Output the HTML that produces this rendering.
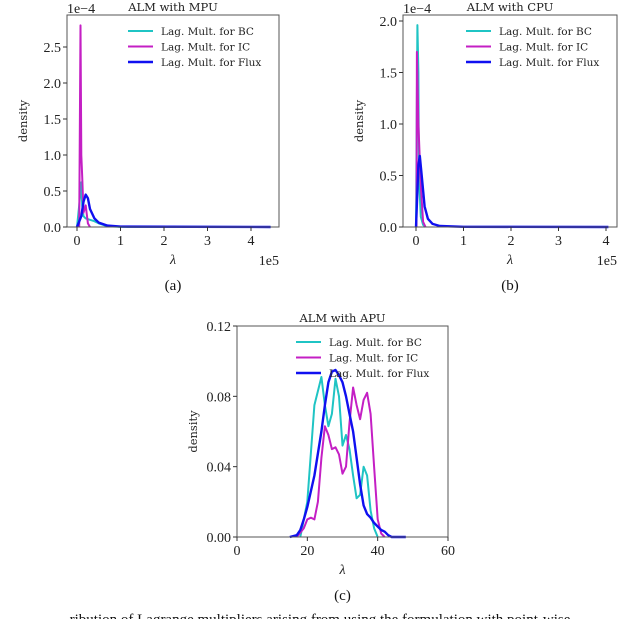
<!DOCTYPE html>
<html><head><meta charset="utf-8"><style>
body{margin:0;background:#fff;width:640px;height:619px;overflow:hidden}
svg{display:block}
.tk{font-family:"Liberation Serif",serif;font-size:14px;fill:#222}
.lg{font-family:"DejaVu Serif",serif;font-size:10.5px;fill:#222}
.tt{font-family:"DejaVu Serif",serif;font-size:11.5px;fill:#222}
.cap{font-family:"Liberation Serif",serif;font-size:15px;fill:#111}
</style></head><body>
<svg id="c" width="640" height="619" xmlns="http://www.w3.org/2000/svg"></svg>
<script>
// Panel (a) MPU data: x in 1e5, density in 1e-4
const aBCx=[0,0.05,0.1,0.12,0.15,0.2,0.3,0.4,0.5,0.7,1.0,4.45];
const aBCy=[0,0.3,0.62,0.3,0.15,0.12,0.1,0.08,0.05,0.01,0.002,0];
const aICx=[0.05,0.08,0.1,0.12,0.15,0.2,0.25,0.3];
const aICy=[0,2.8,1.0,0.7,0.2,0.3,0.05,0];
const aFXx=[0,0.1,0.15,0.2,0.25,0.3,0.4,0.5,0.7,1.0,4.45];
const aFXy=[0,0.15,0.35,0.45,0.4,0.25,0.12,0.06,0.02,0.005,0];
// Panel (b) CPU data
const bBCx=[0,0.03,0.05,0.06,0.1,0.15,0.2];
const bBCy=[0,1.96,1.5,0.5,0.1,0.02,0];
const bICx=[0.01,0.02,0.05,0.1,0.15,0.2];
const bICy=[0,1.7,1.0,0.4,0.05,0];
const bFXx=[0,0.05,0.08,0.12,0.18,0.25,0.35,0.5,1.0,4.05];
const bFXy=[0,0.6,0.69,0.5,0.2,0.08,0.03,0.01,0.002,0];
// Panel (c) APU data
const cBCx=[18,20,22,23,24,25,26,27,28,29,30,31,32,33,34,35,36,37,38,39,40];
const cBCy=[0,0.02,0.075,0.083,0.091,0.075,0.063,0.07,0.09,0.08,0.052,0.058,0.05,0.035,0.022,0.024,0.04,0.035,0.015,0.005,0];
const cICx=[17,19,20,21,22,23,24,25,26,27,28,29,30,31,32,33,34,35,36,37,38,39,40,41,42];
const cICy=[0,0.005,0.01,0.011,0.01,0.02,0.045,0.063,0.058,0.05,0.051,0.047,0.036,0.04,0.065,0.085,0.075,0.067,0.078,0.082,0.07,0.04,0.01,0.002,0];
const cFXx=[15,17,18,19,20,22,24,25,26,27,28,29,30,31,32,33,34,35,36,37,38,39,40,41,42,43,44,48];
const cFXy=[0,0.001,0.004,0.01,0.017,0.035,0.06,0.075,0.088,0.094,0.095,0.092,0.088,0.08,0.07,0.06,0.045,0.03,0.018,0.013,0.011,0.008,0.006,0.004,0.003,0.001,0,0];
const aXt=[0,1,2,3,4], aYt=[0,0.5,1.0,1.5,2.0,2.5];
const bXt=[0,1,2,3,4], bYt=[0,0.5,1.0,1.5,2.0];
const cXt=[0,20,40,60], cYt=[0,0.04,0.08,0.12];

const svg=document.getElementById('c');
const NS='http://www.w3.org/2000/svg';
function mk(t,a,p){const e=document.createElementNS(NS,t);for(const k in a)e.setAttribute(k,a[k]);(p||svg).appendChild(e);return e;}
function txt(s,x,y,cls,anchor,p){const e=mk('text',{x:x,y:y,class:cls,'text-anchor':anchor||'start'},p);e.textContent=s;return e;}

function panel(cfg){
  const g=mk('g',{});
  
  
  const X=v=>cfg.x0+(v-cfg.xmin)*cfg.xs, Y=v=>cfg.y0-v*cfg.ys;
  const series=[[cfg.bc,'#17becf'.replace('#17becf','#1fc4c4'),'bc',2],[cfg.ic,'#c41fc4','ic',2],[cfg.fx,'#1010f0','flux',2.4]];
  series.forEach(s=>{
    const pts=s[0][0].map((v,i)=>X(v).toFixed(1)+','+Y(s[0][1][i]).toFixed(1)).join(' ');
    const l=mk('polyline',{points:pts,fill:'none',stroke:s[1],'stroke-width':s[3],'stroke-linejoin':'round'},g);
    
    
  });
  const r=mk('rect',{x:cfg.L,y:cfg.T,width:cfg.R-cfg.L,height:cfg.y0-cfg.T,fill:'none',stroke:'#555','stroke-width':1},g);
  
  
  cfg.xt.forEach(v=>{mk('line',{x1:X(v),x2:X(v),y1:cfg.y0,y2:cfg.y0+4,stroke:'#333'},g);
    const t=txt(cfg.xfmt(v),X(v),cfg.y0+18,'tk','middle',g);});
  cfg.yt.forEach(v=>{mk('line',{x1:cfg.L-4,x2:cfg.L,y1:Y(v),y2:Y(v),stroke:'#333'},g);
    const t=txt(cfg.yfmt(v),cfg.L-6,Y(v)+5,'tk','end',g);});
  const tt=txt(cfg.title,(cfg.L+cfg.R)/2,cfg.T-4,'tt','middle',g);
  const yl=txt('density',0,0,'tt','middle',g);yl.setAttribute('transform','translate('+(cfg.L-40)+','+((cfg.T+cfg.y0)/2)+') rotate(-90)');
  
  const xl=txt('λ',(cfg.L+cfg.R)/2,cfg.y0+37,'tk','middle',g);xl.setAttribute('font-style','italic');
  
  if(cfg.exp){const e=txt('1e5',cfg.R,cfg.y0+38,'tk','end',g);
    const f=txt('1e\u22124',cfg.L,cfg.T-2,'tk','start',g);}
  const cp=txt(cfg.cap,(cfg.L+cfg.R)/2,cfg.y0+63,'cap','middle',g);
  const lg=mk('g',{},g);
  const labs=['Lag. Mult. for BC','Lag. Mult. for IC','Lag. Mult. for Flux'];
  series.forEach((s,i)=>{const yy=cfg.lgY+i*15.5;
    mk('line',{x1:cfg.lgX,x2:cfg.lgX+25,y1:yy,y2:yy,stroke:s[1],'stroke-width':s[3]},lg);
    const t=txt(labs[i],cfg.lgX+33,yy+4,'lg','start',lg);});
}
const ef=v=>String(v), f1=v=>v.toFixed(1), f2=v=>v.toFixed(2);
panel({name:'chart-mpu',L:67,R:279,T:15,y0:227,x0:77,xmin:0,xs:43.5,ys:72,bc:[aBCx,aBCy],ic:[aICx,aICy],fx:[aFXx,aFXy],xt:aXt,yt:aYt,xfmt:ef,yfmt:f1,title:'ALM with MPU',exp:true,cap:'(a)',lgX:128,lgY:31});
panel({name:'chart-cpu',L:403,R:617,T:15,y0:227,x0:416,xmin:0,xs:47.5,ys:103,bc:[bBCx,bBCy],ic:[bICx,bICy],fx:[bFXx,bFXy],xt:bXt,yt:bYt,xfmt:ef,yfmt:f1,title:'ALM with CPU',exp:true,cap:'(b)',lgX:466,lgY:31});
panel({name:'chart-apu',L:237,R:448,T:326,y0:537,x0:237,xmin:0,xs:211/60,ys:211/0.12,bc:[cBCx,cBCy],ic:[cICx,cICy],fx:[cFXx,cFXy],xt:cXt,yt:cYt,xfmt:ef,yfmt:f2,title:'ALM with APU',exp:false,cap:'(c)',lgX:296,lgY:342});
const cap=txt('ribution of Lagrange multipliers arising from using the formulation with point-wise',320,624,'cap','middle');
cap.setAttribute('font-size','17');


</script>
</body></html>
